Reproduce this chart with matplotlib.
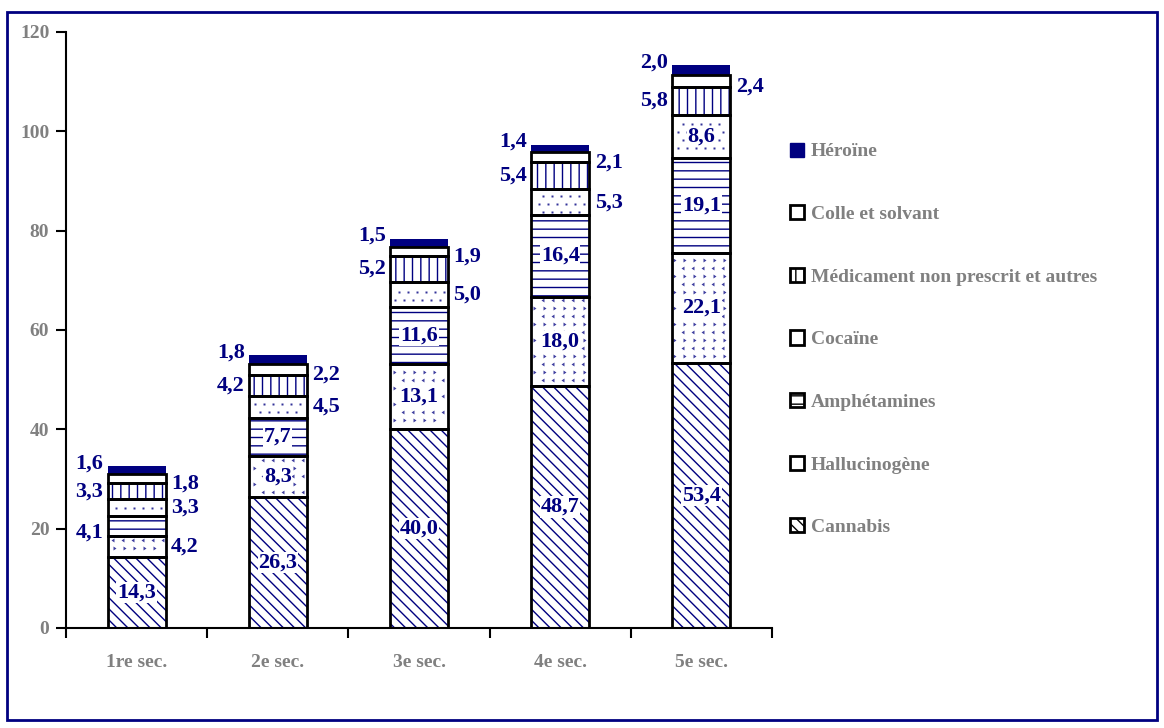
# Stacked bars: drug use by school year (secondaire)

import matplotlib
matplotlib.use('Agg')
import matplotlib.pyplot as plt
from matplotlib.patches import Patch, Rectangle
import numpy as np

categories = ['1re sec.', '2e sec.', '3e sec.', '4e sec.', '5e sec.']
series_names = ['Cannabis', 'Hallucinogène', 'Amphétamines', 'Cocaïne',
                'Médicament non prescrit et autres', 'Colle et solvant', 'Héroïne']
cannabis = [14.3, 26.3, 40.0, 48.7, 53.4]
hallucinogene = [4.2, 8.3, 13.1, 18.0, 22.1]
amphetamines = [4.1, 7.7, 11.6, 16.4, 19.1]
cocaine = [3.3, 4.5, 5.0, 5.3, 8.6]
medicament = [3.3, 4.2, 5.2, 5.4, 5.8]
colle = [1.8, 2.2, 1.9, 2.1, 2.4]
heroine = [1.6, 1.8, 1.5, 1.4, 2.0]
series = [cannabis, hallucinogene, amphetamines, cocaine, medicament, colle, heroine]

NAVY = '#000080'
GRAY = '#808080'
SERIF = 'Liberation Serif'

# hatch / texture, face, side for small labels, vertical label offset (pt)
styles = [
  dict(hatch='\\\\\\', tex=None, face='white', side='right', dy=0),
  dict(hatch='', tex='chevron', face='white', side='right', dy=0),
  dict(hatch='--', tex=None, face='white', side='left', dy=-5),
  dict(hatch='', tex='dots', face='white', side='right', dy=0),
  dict(hatch='||', tex=None, face='white', side='left', dy=0),
  dict(hatch='', tex=None, face='white', side='right', dy=-4),
  dict(hatch='', tex=None, face=NAVY, side='left', dy=5),
]

plt.rcParams['font.family'] = SERIF
plt.rcParams['font.weight'] = 'bold'
plt.rcParams['hatch.linewidth'] = 1.0

fig = plt.figure(figsize=(11.64, 7.28), dpi=100)
ax = fig.add_axes([66 / 1164, 1 - 628 / 728, (772 - 66) / 1164, (628 - 32) / 728])
ax.set_xlim(-0.5, len(categories) - 0.5)
ax.set_ylim(0, 120)

# texture grid spacing in data units (approx 10 px x 8 px)
px_x = 706 / len(categories)
px_y = 596 / 120.0

def texture(x0, x1, y0, y1, kind):
  dx = (10 if kind == 'chevron' else 9) / px_x
  dy = 8 / px_y
  mx, my = 3 / px_x, 3 / px_y
  rows = np.arange(0, 120, dy)
  for r, yy in enumerate(rows):
    if yy < y0 + my or yy > y1 - my:
      continue
    xs = np.arange(-0.5 + (dx / 2 if r % 2 else 0), 4.5, dx)
    xs = xs[(xs > x0 + mx) & (xs < x1 - mx)]
    if kind == 'dots':
      ax.plot(xs, np.full_like(xs, yy), ls='none', marker='s', ms=1.6,
              mec='none', mfc=NAVY, alpha=0.8, zorder=2.5)
    else:
      ax.plot(xs, np.full_like(xs, yy), ls='none', marker=4 if r % 2 else 5,
              ms=3.2, mec='none', mfc=NAVY, alpha=0.75, zorder=2.5)

x = np.arange(len(categories))
width = 0.41
bottom = np.zeros(len(categories))
for name, vals, st in zip(series_names, series, styles):
  vals = np.array(vals)
  if st['face'] == NAVY:
    ax.bar(x, vals, width, bottom=bottom, color=NAVY, edgecolor=NAVY, linewidth=0, zorder=2)
  else:
    ax.bar(x, vals, width, bottom=bottom, color='white', edgecolor=NAVY,
           hatch=st['hatch'], linewidth=0, zorder=2)
    ax.bar(x, vals, width, bottom=bottom, fill=False, edgecolor='black', linewidth=2, zorder=3)
    if st['tex']:
      for i, v in enumerate(vals):
        texture(x[i] - width / 2, x[i] + width / 2, bottom[i], bottom[i] + v, st['tex'])
  for i, v in enumerate(vals):
    txt = f'{v:.1f}'.replace('.', ',')
    yc = bottom[i] + v / 2
    if v >= 7:
      ax.text(x[i], yc, txt, ha='center', va='center', color=NAVY, fontsize=16,
              fontweight='bold', zorder=5,
              bbox=dict(facecolor='white', edgecolor='none', pad=0.5))
    elif st['side'] == 'left':
      ax.annotate(txt, (x[i] - width / 2, yc), xytext=(-3, st['dy']),
                  textcoords='offset points', ha='right', va='center',
                  color=NAVY, fontsize=16, fontweight='bold', zorder=5)
    else:
      ax.annotate(txt, (x[i] + width / 2, yc), xytext=(4, st['dy']),
                  textcoords='offset points', ha='left', va='center',
                  color=NAVY, fontsize=16, fontweight='bold', zorder=5)
  bottom += vals

ax.set_yticks(range(0, 121, 20))
ax.set_xticks(x)
ax.set_xticklabels(categories)
ax.set_xticks(np.arange(-0.5, len(categories)), minor=True)
ax.tick_params(axis='x', which='major', length=0, pad=19, labelsize=14, labelcolor=GRAY)
ax.tick_params(axis='x', which='minor', length=7, width=1.5, direction='out')
ax.tick_params(axis='y', length=7, width=1.5, direction='out', pad=5, labelsize=14, labelcolor=GRAY)
for lab in ax.get_xticklabels() + ax.get_yticklabels():
  lab.set_fontweight('bold')
for s in ['top', 'right']:
  ax.spines[s].set_visible(False)
for s in ['left', 'bottom']:
  ax.spines[s].set_linewidth(1.5)

handles = []
for name, st in zip(series_names, styles):
  if st['face'] == NAVY:
    handles.append(Patch(facecolor=NAVY, edgecolor=NAVY, label=name))
  else:
    handles.append(Patch(facecolor='white', edgecolor='black', linewidth=2,
                         hatch=st['hatch'], label=name))
leg = fig.legend(handles[::-1], series_names[::-1], loc='upper left',
                 bbox_to_anchor=(772 / 1164, 1 - 125 / 728), frameon=False,
                 handlelength=0.75, handleheight=0.75, handletextpad=0.35,
                 labelspacing=2.3, prop=dict(family=SERIF, weight='bold', size=14))
for t in leg.get_texts():
  t.set_color(GRAY)

fig.patches.append(Rectangle((7 / 1164, 1 - 720 / 728), 1150 / 1164, 708 / 728,
                             transform=fig.transFigure, fill=False,
                             edgecolor=NAVY, linewidth=2))

fig.savefig('out.png', dpi=100)
